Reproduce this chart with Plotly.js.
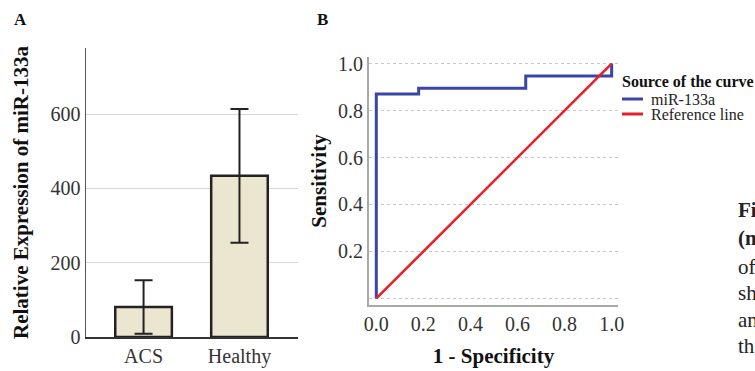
<!DOCTYPE html>
<html><head><meta charset="utf-8">
<script src="https://cdn.plot.ly/plotly-3.0.1.min.js"></script>
<style>html,body{margin:0;padding:0;background:#fff;overflow:hidden}</style>
</head><body><div id="chart" style="width:755px;height:371px"></div>
<script>
// ---- data ----
const groups = ['ACS', 'Healthy'];
const meanExpr = [81, 434];
const errExpr = [72, 180];
const yTicksA = [0, 200, 400, 600];

const rocX = [0, 0, 0.18, 0.635, 1, 1];
const rocY = [0, 0.87, 0.895, 0.947, 0.947, 1];
const refX = [0, 1];
const refY = [0, 1];
const seriesNames = ['miR-133a', 'Reference line'];
const ticksB = [0, 0.2, 0.4, 0.6, 0.8, 1.0];
const xTickTextB = ['0.0', '0.2', '0.4', '0.6', '0.8', '1.0'];
const yTickTextB = ['', '0.2', '0.4', '0.6', '0.8', '1.0'];
const captionFrags = ['Fi', '(m', 'of', 'sh', 'an', 'th'];

// ---- layout helpers ----
const W = 755, H = 371;
const px = x => x / W;
const py = y => 1 - y / H;
const SERIF = 'Liberation Serif, Times New Roman, serif';
const BLUE = '#3a46a5', RED = '#e8202a';

const traces = [
  {
    type: 'bar', x: groups, y: meanExpr, xaxis: 'x', yaxis: 'y',
    width: 0.59, marker: {color: '#ebe6d0', line: {color: '#222', width: 2.5}},
    error_y: {type: 'data', array: errExpr, visible: true, thickness: 2, width: 9, color: '#222'},
    showlegend: false, hoverinfo: 'skip'
  },
  {
    type: 'scatter', mode: 'lines', x: rocX, y: rocY, xaxis: 'x2', yaxis: 'y2',
    name: seriesNames[0], line: {color: BLUE, width: 3, shape: 'hv'}, showlegend: false
  },
  {
    type: 'scatter', mode: 'lines', x: refX, y: refY, xaxis: 'x2', yaxis: 'y2',
    name: seriesNames[1], line: {color: RED, width: 2.6}, showlegend: false
  }
];

const ann = (text, x, y, xanchor, size, color) => ({
  text: text, x: px(x), y: py(y), xref: 'paper', yref: 'paper',
  xanchor: xanchor, yanchor: 'middle', showarrow: false,
  font: {family: SERIF, size: size, color: color}
});

const annotations = [
  ann('<b>A</b>', 20, 19, 'center', 17, '#111'),
  ann('<b>B</b>', 322, 19, 'center', 17, '#111'),
  ann('<b>Source of the curve</b>', 620, 81, 'left', 16, '#111'),
  ann(seriesNames[0], 649, 99, 'left', 16, '#222'),
  ann(seriesNames[1], 649, 115, 'left', 16, '#222')
];
const capY = [210, 238, 267, 293, 320, 346];
captionFrags.forEach((t, i) => {
  annotations.push(ann(i < 2 ? '<b>' + t + '</b>' : t, 736, capY[i], 'left', 21, '#222'));
});

const shapes = [
  {type: 'line', xref: 'paper', yref: 'paper', x0: px(622), x1: px(643), y0: py(99), y1: py(99),
   line: {color: BLUE, width: 3}},
  {type: 'line', xref: 'paper', yref: 'paper', x0: px(622), x1: px(643), y0: py(114), y1: py(114),
   line: {color: RED, width: 3}}
];

const layout = {
  width: W, height: H, margin: {l: 0, r: 0, t: 0, b: 0},
  paper_bgcolor: '#fff', plot_bgcolor: 'rgba(0,0,0,0)',
  font: {family: SERIF, size: 20, color: '#333'},
  showlegend: false,
  xaxis: {
    domain: [px(86), px(298)], anchor: 'y', type: 'category', range: [-0.6, 1.61],
    showline: true, linecolor: '#333', linewidth: 1.5, ticks: '', showgrid: false,
    tickfont: {family: SERIF, size: 20, color: '#333'}, zeroline: false, fixedrange: true
  },
  yaxis: {
    domain: [py(337), py(48)], anchor: 'x', range: [0, 778],
    tickvals: yTicksA, showline: true, linecolor: '#555', linewidth: 1.5, ticks: '',
    showgrid: true, gridcolor: '#d6d6d6', gridwidth: 1, zeroline: false,
    tickfont: {family: SERIF, size: 20, color: '#333'},
    title: {text: '<b>Relative Expression of miR-133a</b>', font: {family: SERIF, size: 21, color: '#111'}, standoff: 16}
  },
  xaxis2: {
    domain: [px(369), px(618)], anchor: 'y2', range: [-0.031, 1.027],
    tickvals: ticksB, ticktext: xTickTextB, showline: true, linecolor: '#a8a8a8', linewidth: 2,
    ticks: '', showgrid: false, zeroline: false,
    tickfont: {family: SERIF, size: 20, color: '#333'},
    title: {text: '<b>1 - Specificity</b>', font: {family: SERIF, size: 21, color: '#111'}, standoff: 14}
  },
  yaxis2: {
    domain: [py(305), py(57)], anchor: 'x2', range: [-0.028, 1.028],
    tickvals: ticksB, ticktext: yTickTextB, showline: true, linecolor: '#a8a8a8', linewidth: 2,
    ticks: '', showgrid: true, gridcolor: '#c8c8c8', griddash: 'dot', gridwidth: 1, zeroline: false,
    tickfont: {family: SERIF, size: 20, color: '#333'},
    title: {text: '<b>Sensitivity</b>', font: {family: SERIF, size: 21, color: '#111'}, standoff: 6}
  },
  annotations: annotations,
  shapes: shapes
};

Plotly.newPlot('chart', traces, layout, {displayModeBar: false, staticPlot: true});
</script>
</body></html>
